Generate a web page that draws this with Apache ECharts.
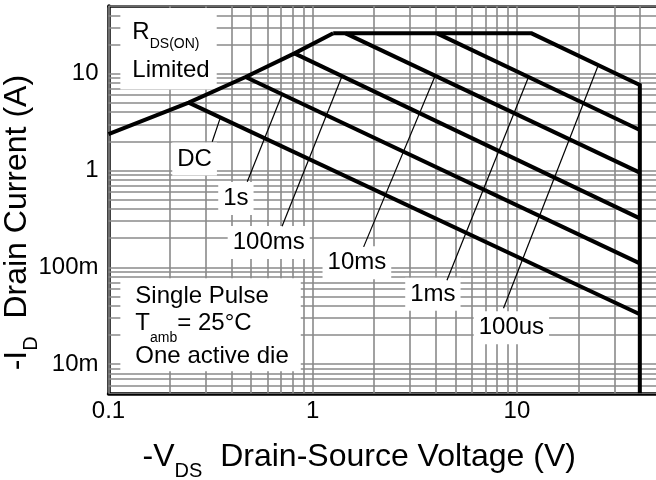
<!DOCTYPE html>
<html><head><meta charset="utf-8">
<script src="https://cdn.jsdelivr.net/npm/echarts@6/dist/echarts.min.js"></script>
<style>html,body{margin:0;padding:0;background:#fff}#c{width:656px;height:480px}</style>
</head><body><div id="c"></div>
<script>
// ---- axes ----
const xRange = [0.1, 48];
const yRange = [0.005, 50];
const xTickValues = [0.1, 1, 10];
const xTickLabels = ['0.1', '1', '10'];
const yTickValues = [0.01, 0.1, 1, 10];
const yTickLabels = ['10m', '100m', '1', '10'];

// ---- curves: [-VDS (V), -ID (A)] ----
const rdsOnLimit = [[0.1, 2.38], [0.247, 5.03], [0.469, 9.23], [0.814, 16.2], [1.26, 26.1]];
const outerLimit = [[1.26, 26.1], [11.8, 26.1], [40, 7.63], [40, 0.005]]; // 100us + VDS max
const curveDC = [[0.247, 5.03], [40, 0.0328]];
const curve1s = [[0.469, 9.23], [40, 0.110]];
const curve100ms = [[0.814, 16.2], [40, 0.320]];
const curve10ms = [[1.45, 26.1], [40, 0.951]];
const curve1ms = [[4.06, 26.1], [40, 2.62]];

// ---- curve labels and their leader lines (data units) ----
const labelNames = ['DC', '1s', '100ms', '10ms', '1ms', '100us'];
const labelAt = [[0.264, 1.311], [0.4206, 0.5126], [0.609, 0.180], [1.646, 0.1118], [3.878, 0.0528], [9.40, 0.0238]];
const leaderFrom = [[0.322, 1.98], [0.478, 0.764], [0.708, 0.266], [1.776, 0.1627], [4.545, 0.0737], [8.60, 0.0378]];
const leaderTo = [[0.353, 3.52], [0.708, 6.09], [1.393, 9.46], [3.98, 9.50], [11.40, 9.23], [25.0, 12.17]];
const noteRdsAt = [0.1143, 47.6];
const noteCondAt = [0.1143, 0.0773];

const FONT = 'Liberation Sans, Arial, sans-serif';

function logGrid(min, max) {
  const out = [];
  for (let e = -3; e <= 2; e++) for (let m = 1; m <= 9; m++) {
    const v = +(m * Math.pow(10, e)).toPrecision(4);
    if (v >= min * 0.9999 && v <= max * 1.0001) out.push(v);
  }
  return out;
}
const gridData = [];
logGrid(xRange[0], xRange[1]).forEach(v => gridData.push({coords: [[v, yRange[0]], [v, yRange[1]]]}));
logGrid(yRange[0], yRange[1]).forEach(v => gridData.push({coords: [[xRange[0], v], [xRange[1], v]]}));

function tickFmt(vals, labels) {
  return function (v) {
    const i = vals.findIndex(t => Math.abs(Math.log10(t) - Math.log10(v)) < 1e-6);
    return i >= 0 ? labels[i] : '';
  };
}

const thick = {color: '#000', width: 4, join: 'miter'};
const curveSeries = [rdsOnLimit, outerLimit, curveDC, curve1s, curve100ms, curve10ms, curve1ms].map(d => ({
  type: 'line', data: d, symbol: 'none', lineStyle: thick, z: 4, silent: true, clip: false
}));
const leaderSeries = leaderFrom.map((p, i) => ({
  type: 'line', data: [p, leaderTo[i]], symbol: 'none', lineStyle: {color: '#000', width: 1.2}, z: 5, silent: true
}));

const labelItems = labelNames.map((n, i) => ({
  value: labelAt[i],
  label: {show: true, position: 'inside', formatter: n, fontFamily: FONT, fontSize: 24, color: '#000', opacity: 1,
    backgroundColor: '#fff', padding: [4, 5, 3, 5], lineHeight: 26, align: 'center', verticalAlign: 'middle', textBorderWidth: 0}
}));
labelItems.push({
  value: noteRdsAt,
  label: {show: true, position: 'inside', align: 'left', verticalAlign: 'top', backgroundColor: '#fff', opacity: 1,
    padding: [5.5, 7, 0, 12], color: '#000', textBorderWidth: 0,
    formatter: '{r|R}{s|DS(ON)}\n{m|Limited}',
    rich: {
      r: {fontFamily: FONT, fontSize: 24, lineHeight: 38, verticalAlign: 'middle', color: '#000'},
      s: {fontFamily: FONT, fontSize: 14, lineHeight: 14, verticalAlign: 'bottom', color: '#000'},
      m: {fontFamily: FONT, fontSize: 24, lineHeight: 38, verticalAlign: 'middle', color: '#000'}
    }}
});
labelItems.push({
  value: noteCondAt,
  label: {show: true, position: 'inside', align: 'left', verticalAlign: 'top', backgroundColor: '#fff', opacity: 1,
    padding: [3, 12, 0, 15], color: '#000', textBorderWidth: 0,
    formatter: '{a|Single Pulse}\n{t|T}{sub|amb}{t|= 25°C}\n{c|One active die}',
    rich: {
      a: {fontFamily: FONT, fontSize: 24, lineHeight: 30, verticalAlign: 'middle', color: '#000'},
      t: {fontFamily: FONT, fontSize: 24, lineHeight: 30, verticalAlign: 'top', color: '#000'},
      sub: {fontFamily: FONT, fontSize: 14, lineHeight: 16, padding: [19.5, 0, 0, 0], verticalAlign: 'top', color: '#000'},
      c: {fontFamily: FONT, fontSize: 24, lineHeight: 30, padding: [3, 0, 0, 0], verticalAlign: 'top', color: '#000'}
    }}
});

const chart = echarts.init(document.getElementById('c'), null, {renderer: 'canvas'});
chart.setOption({
  animation: false,
  backgroundColor: '#fff',
  textStyle: {fontFamily: FONT, color: '#000'},
  grid: {left: 108.5, right: 0, top: 6, bottom: 86.7, containLabel: false, outerBoundsMode: 'none'},
  xAxis: [{
    type: 'log', logBase: 10, min: xRange[0], max: xRange[1], position: 'bottom',
    axisLine: {lineStyle: {color: '#000', width: 3.5}},
    axisTick: {show: false}, splitLine: {show: false},
    axisLabel: {fontFamily: FONT, fontSize: 24, color: '#000', margin: 6, formatter: tickFmt(xTickValues, xTickLabels)},
    name: '{m|-V}{s|DS}{m|  Drain-Source Voltage (V)}',
    nameLocation: 'middle', nameGap: 48, nameMoveOverlap: false,
    nameTextStyle: {padding: [0, 46, 0, 0], rich: {
      m: {fontFamily: FONT, fontSize: 32, lineHeight: 40, verticalAlign: 'top', color: '#000'},
      s: {fontFamily: FONT, fontSize: 20, lineHeight: 12, verticalAlign: 'bottom', color: '#000'}
    }}
  }, {
    type: 'log', logBase: 10, min: xRange[0], max: xRange[1], position: 'top',
    axisLine: {lineStyle: {color: '#000', width: 2.5}},
    axisTick: {show: false}, splitLine: {show: false}, axisLabel: {show: false}
  }],
  yAxis: {
    type: 'log', logBase: 10, min: yRange[0], max: yRange[1],
    axisLine: {lineStyle: {color: '#000', width: 3.5}},
    axisTick: {show: false}, splitLine: {show: false},
    axisLabel: {fontFamily: FONT, fontSize: 24, color: '#000', margin: 10, formatter: tickFmt(yTickValues, yTickLabels)},
    name: '{m|-I}{s|D}{m|  Drain Current (A)}',
    nameLocation: 'middle', nameGap: 67, nameMoveOverlap: false,
    nameTextStyle: {padding: [0, 46, 0, 0], rich: {
      m: {fontFamily: FONT, fontSize: 32, lineHeight: 40, verticalAlign: 'top', color: '#000'},
      s: {fontFamily: FONT, fontSize: 20, lineHeight: 8, verticalAlign: 'bottom', color: '#000'}
    }}
  },
  series: [
    {type: 'lines', coordinateSystem: 'cartesian2d', data: gridData, silent: true, z: 1,
     lineStyle: {color: '#8a8a8a', width: 1.6, opacity: 1, curveness: 0}},
    {type: 'scatter', data: labelItems, symbolSize: 1, itemStyle: {color: 'rgba(0,0,0,0)', opacity: 1}, z: 3, silent: true}
  ].concat(curveSeries, leaderSeries)
});
</script></body></html>
